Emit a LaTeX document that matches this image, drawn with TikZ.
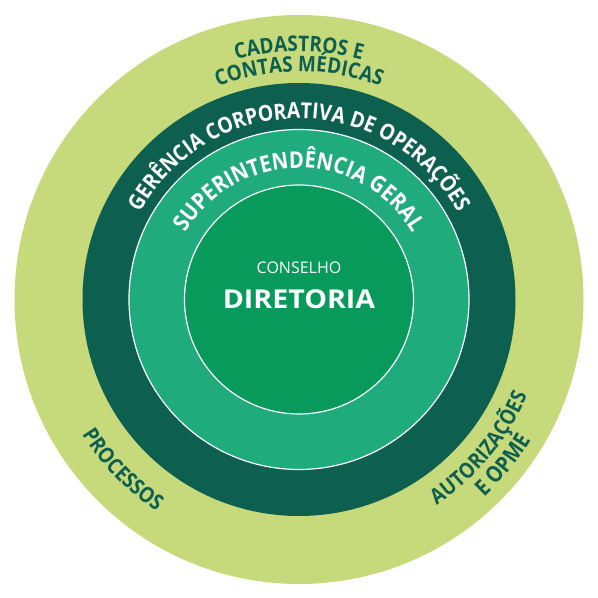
\documentclass[tikz,border=0pt]{standalone}
\usepackage{fontspec}
\setmainfont{Open Sans}
\newfontfamily\condfont[FakeStretch=0.88]{Open Sans}
\newfontfamily\widefont[FakeStretch=1.1]{Open Sans}
\usetikzlibrary{decorations.text}
\definecolor{lightg}{HTML}{C7DA7B}
\definecolor{darkg}{HTML}{0D5F50}
\definecolor{medg}{HTML}{20AB7D}
\definecolor{inng}{HTML}{079A5A}
\tikzset{
  arctext/.style={decorate, decoration={text along path, text align=center, text color=#1}}
}
\begin{document}
\begin{tikzpicture}[x=1pt,y=1pt]
\useasboundingbox (0,0) rectangle (598,598);
\coordinate (c) at (299,298.5);
\fill[lightg] (c) circle (284.5);
\fill[darkg] (c) circle (216.5);
\filldraw[medg, draw=white, line width=1.2] (c) circle (170);
\filldraw[inng, draw=white, line width=1.2] (c) circle (114.5);
% centre
\node[text=white, font=\fontsize{16}{18}\selectfont] (conselho) at (299,330) {CONSELHO};
\node[text=white, font=\widefont\fontsize{26}{30}\selectfont\bfseries] (diretoria) at (299,299) {DIRETORIA};
% rings
\path[arctext=white, decoration={text={|\condfont\fontsize{22}{22}\selectfont\bfseries|GERÊNCIA CORPORATIVA DE OPERAÇÕES}}]
  ([shift={(c)}]178:181) arc[start angle=178, end angle=2, radius=181];
\path[arctext=white, decoration={text={|\condfont\fontsize{23}{23}\selectfont\bfseries|SUPERINTENDÊNCIA GERAL}}]
  ([shift={(c)}]178:131.5) arc[start angle=178, end angle=2, radius=131.5];
\path[arctext=darkg, decoration={text={|\condfont\fontsize{21.5}{21.5}\selectfont\bfseries|CADASTROS E}}]
  ([shift={(c)}]150:248) arc[start angle=150, end angle=30, radius=248];
\path[arctext=darkg, decoration={text={|\condfont\fontsize{21.5}{21.5}\selectfont\bfseries|CONTAS MÉDICAS}}]
  ([shift={(c)}]150:228) arc[start angle=150, end angle=30, radius=228];
\path[arctext=darkg, decoration={text={|\condfont\fontsize{21.5}{21.5}\selectfont\bfseries|PROCESSOS}}]
  ([shift={(c)}]190:255.5) arc[start angle=190, end angle=258, radius=255.5];
\path[arctext=darkg, decoration={text={|\condfont\fontsize{21.5}{21.5}\selectfont\bfseries|AUTORIZAÇÕES}}]
  ([shift={(c)}]285:247.5) arc[start angle=285, end angle=356, radius=247.5];
\path[arctext=darkg, decoration={text={|\condfont\fontsize{22.5}{22.5}\selectfont\bfseries|E OPME}}]
  ([shift={(c)}]290:271) arc[start angle=290, end angle=352, radius=271];
\end{tikzpicture}
\end{document}
